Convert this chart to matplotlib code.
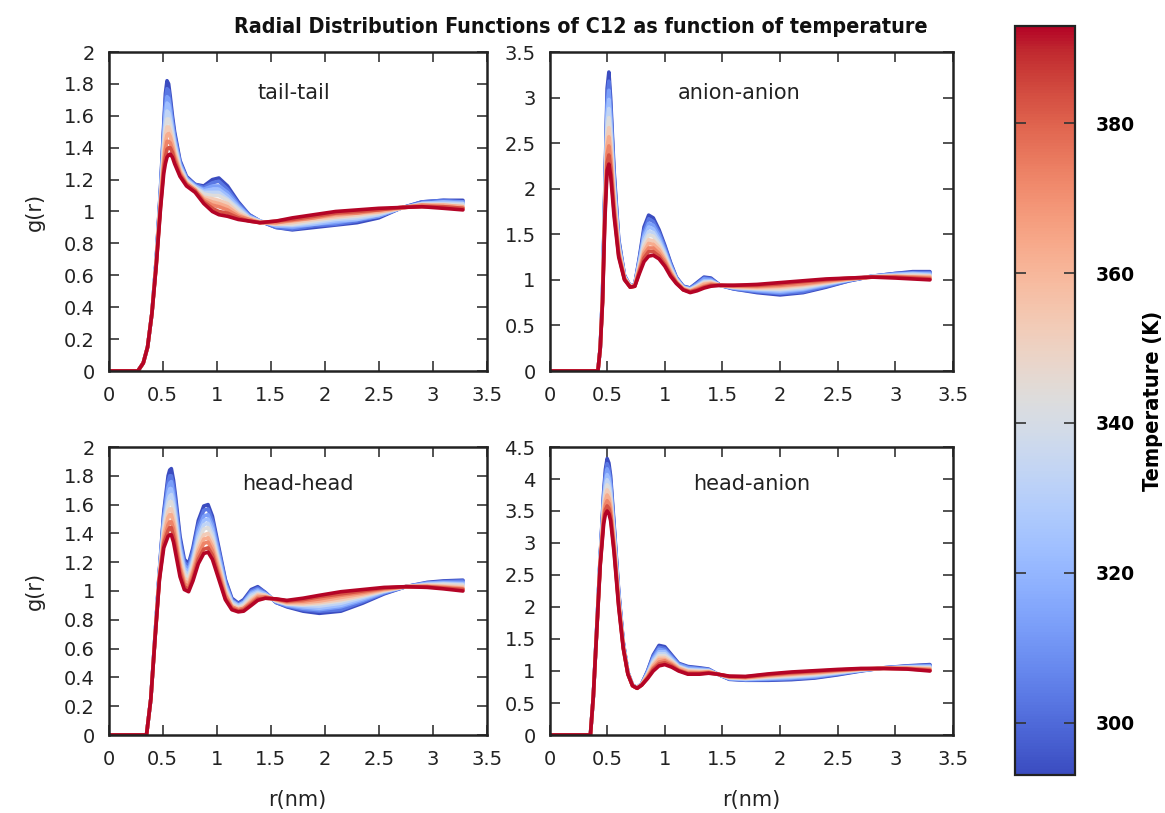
import numpy as np
import matplotlib
matplotlib.use("Agg")
import matplotlib.pyplot as plt
from matplotlib.ticker import MultipleLocator, FuncFormatter
from matplotlib.colors import Normalize
from matplotlib.cm import ScalarMappable

# ---------------- data ----------------
temperatures = [293, 303, 313, 323, 333, 343, 353, 363, 373, 383, 393]
panel_labels = ["tail-tail", "anion-anion", "head-head", "head-anion"]
cbar_ticks = [300, 320, 340, 360, 380]

# each row: g(r) at one r value, columns = temperatures (cold -> hot)
r_tail = [0.00, 0.27, 0.32, 0.36, 0.40, 0.44, 0.48, 0.51, 0.525, 0.54, 0.555, 0.57, 0.59, 0.61,
          0.66, 0.72, 0.80, 0.88, 0.96, 1.02, 1.10, 1.20, 1.30, 1.40, 1.55, 1.70, 1.90, 2.10,
          2.30, 2.50, 2.70, 2.90, 3.10, 3.28]
g_tail = [
    [0, 0, 0, 0, 0, 0, 0, 0, 0, 0, 0],
    [0, 0, 0, 0, 0, 0, 0, 0, 0, 0, 0],
    [0.05, 0.05, 0.05, 0.05, 0.05, 0.05, 0.05, 0.05, 0.05, 0.05, 0.05],
    [0.15, 0.15, 0.15, 0.15, 0.15, 0.15, 0.15, 0.15, 0.15, 0.15, 0.15],
    [0.36, 0.36, 0.36, 0.36, 0.36, 0.36, 0.36, 0.36, 0.36, 0.36, 0.36],
    [0.70, 0.70, 0.69, 0.69, 0.68, 0.68, 0.68, 0.67, 0.67, 0.66, 0.66],
    [1.15, 1.14, 1.12, 1.11, 1.10, 1.09, 1.07, 1.06, 1.05, 1.03, 1.02],
    [1.55, 1.52, 1.49, 1.46, 1.43, 1.40, 1.36, 1.33, 1.30, 1.27, 1.24],
    [1.74, 1.70, 1.65, 1.61, 1.56, 1.52, 1.48, 1.43, 1.39, 1.34, 1.30],
    [1.82, 1.77, 1.72, 1.68, 1.63, 1.58, 1.53, 1.48, 1.44, 1.39, 1.34],
    [1.80, 1.76, 1.71, 1.67, 1.62, 1.58, 1.53, 1.49, 1.44, 1.40, 1.355],
    [1.72, 1.68, 1.65, 1.61, 1.58, 1.54, 1.50, 1.47, 1.43, 1.40, 1.36],
    [1.60, 1.57, 1.55, 1.52, 1.50, 1.47, 1.44, 1.42, 1.39, 1.37, 1.34],
    [1.50, 1.48, 1.46, 1.44, 1.42, 1.40, 1.38, 1.36, 1.34, 1.32, 1.30],
    [1.32, 1.31, 1.30, 1.29, 1.28, 1.27, 1.26, 1.25, 1.24, 1.23, 1.22],
    [1.22, 1.21, 1.21, 1.20, 1.20, 1.19, 1.18, 1.18, 1.17, 1.17, 1.16],
    [1.17, 1.17, 1.16, 1.16, 1.15, 1.15, 1.14, 1.14, 1.13, 1.13, 1.12],
    [1.16, 1.15, 1.14, 1.13, 1.12, 1.11, 1.09, 1.08, 1.07, 1.06, 1.05],
    [1.20, 1.18, 1.16, 1.14, 1.12, 1.10, 1.08, 1.06, 1.04, 1.02, 1.00],
    [1.21, 1.19, 1.16, 1.14, 1.12, 1.10, 1.07, 1.05, 1.03, 1.00, 0.98],
    [1.16, 1.14, 1.12, 1.10, 1.08, 1.07, 1.05, 1.03, 1.01, 0.99, 0.97],
    [1.06, 1.05, 1.04, 1.03, 1.02, 1.01, 0.99, 0.98, 0.97, 0.96, 0.95],
    [0.98, 0.98, 0.97, 0.97, 0.96, 0.96, 0.96, 0.95, 0.95, 0.94, 0.94],
    [0.94, 0.94, 0.94, 0.94, 0.94, 0.935, 0.935, 0.93, 0.93, 0.93, 0.93],
    [0.90, 0.90, 0.91, 0.91, 0.92, 0.92, 0.92, 0.93, 0.93, 0.94, 0.94],
    [0.885, 0.89, 0.90, 0.91, 0.915, 0.92, 0.93, 0.94, 0.945, 0.95, 0.96],
    [0.90, 0.91, 0.92, 0.92, 0.93, 0.94, 0.95, 0.96, 0.96, 0.97, 0.98],
    [0.915, 0.92, 0.93, 0.94, 0.95, 0.96, 0.965, 0.975, 0.985, 0.99, 1.00],
    [0.93, 0.94, 0.95, 0.95, 0.96, 0.97, 0.98, 0.99, 0.99, 1.00, 1.01],
    [0.96, 0.97, 0.97, 0.98, 0.98, 0.99, 0.995, 1.00, 1.01, 1.01, 1.02],
    [1.02, 1.02, 1.02, 1.02, 1.02, 1.02, 1.02, 1.02, 1.025, 1.025, 1.025],
    [1.06, 1.06, 1.05, 1.05, 1.05, 1.045, 1.04, 1.04, 1.04, 1.03, 1.03],
    [1.07, 1.07, 1.06, 1.06, 1.05, 1.045, 1.04, 1.04, 1.03, 1.03, 1.02],
    [1.07, 1.06, 1.06, 1.05, 1.05, 1.04, 1.03, 1.03, 1.02, 1.02, 1.01],
]

r_anion = [0.00, 0.42, 0.44, 0.46, 0.48, 0.50, 0.515, 0.53, 0.56, 0.60, 0.65, 0.70, 0.74, 0.78,
           0.82, 0.86, 0.90, 0.95, 1.00, 1.05, 1.10, 1.16, 1.22, 1.28, 1.34, 1.40, 1.48, 1.60,
           1.80, 2.00, 2.20, 2.40, 2.60, 2.80, 3.00, 3.15, 3.30]
g_anion = [
    [0, 0, 0, 0, 0, 0, 0, 0, 0, 0, 0],
    [0, 0, 0, 0, 0, 0, 0, 0, 0, 0, 0],
    [0.25, 0.25, 0.25, 0.25, 0.25, 0.25, 0.25, 0.25, 0.25, 0.25, 0.25],
    [0.85, 0.84, 0.83, 0.82, 0.81, 0.80, 0.79, 0.78, 0.77, 0.76, 0.75],
    [2.00, 1.97, 1.93, 1.90, 1.86, 1.83, 1.79, 1.76, 1.72, 1.69, 1.65],
    [3.10, 3.01, 2.92, 2.83, 2.74, 2.65, 2.56, 2.47, 2.38, 2.29, 2.20],
    [3.28, 3.18, 3.08, 2.98, 2.88, 2.78, 2.67, 2.57, 2.47, 2.37, 2.27],
    [3.00, 2.92, 2.83, 2.75, 2.66, 2.58, 2.49, 2.41, 2.32, 2.24, 2.15],
    [2.20, 2.15, 2.10, 2.05, 2.00, 1.95, 1.90, 1.85, 1.80, 1.75, 1.70],
    [1.45, 1.43, 1.41, 1.39, 1.37, 1.35, 1.33, 1.31, 1.29, 1.27, 1.25],
    [1.05, 1.05, 1.04, 1.04, 1.03, 1.03, 1.02, 1.02, 1.01, 1.01, 1.00],
    [0.93, 0.93, 0.93, 0.93, 0.93, 0.93, 0.92, 0.92, 0.92, 0.92, 0.92],
    [0.95, 0.95, 0.95, 0.94, 0.94, 0.94, 0.94, 0.94, 0.93, 0.93, 0.93],
    [1.25, 1.23, 1.21, 1.20, 1.18, 1.16, 1.14, 1.12, 1.11, 1.09, 1.07],
    [1.58, 1.54, 1.50, 1.47, 1.43, 1.39, 1.35, 1.31, 1.28, 1.24, 1.20],
    [1.71, 1.67, 1.62, 1.58, 1.53, 1.49, 1.44, 1.40, 1.35, 1.31, 1.26],
    [1.68, 1.64, 1.60, 1.56, 1.52, 1.48, 1.43, 1.39, 1.35, 1.31, 1.27],
    [1.55, 1.52, 1.49, 1.45, 1.42, 1.39, 1.36, 1.33, 1.29, 1.26, 1.23],
    [1.38, 1.36, 1.33, 1.31, 1.29, 1.27, 1.24, 1.22, 1.20, 1.17, 1.15],
    [1.19, 1.18, 1.16, 1.15, 1.13, 1.12, 1.10, 1.09, 1.07, 1.06, 1.04],
    [1.03, 1.02, 1.02, 1.01, 1.00, 1.00, 0.99, 0.98, 0.97, 0.97, 0.96],
    [0.93, 0.93, 0.92, 0.92, 0.91, 0.91, 0.91, 0.90, 0.90, 0.89, 0.89],
    [0.91, 0.91, 0.90, 0.90, 0.89, 0.89, 0.88, 0.88, 0.87, 0.87, 0.86],
    [0.97, 0.96, 0.95, 0.94, 0.93, 0.93, 0.92, 0.91, 0.90, 0.89, 0.88],
    [1.03, 1.02, 1.01, 0.99, 0.98, 0.97, 0.96, 0.95, 0.93, 0.92, 0.91],
    [1.02, 1.01, 1.00, 0.99, 0.98, 0.98, 0.97, 0.96, 0.95, 0.94, 0.93],
    [0.94, 0.94, 0.94, 0.94, 0.94, 0.94, 0.94, 0.94, 0.94, 0.94, 0.94],
    [0.90, 0.90, 0.91, 0.91, 0.92, 0.92, 0.92, 0.93, 0.93, 0.94, 0.94],
    [0.86, 0.87, 0.88, 0.89, 0.90, 0.905, 0.91, 0.92, 0.93, 0.94, 0.95],
    [0.835, 0.85, 0.86, 0.875, 0.89, 0.90, 0.915, 0.93, 0.94, 0.955, 0.97],
    [0.86, 0.87, 0.89, 0.90, 0.91, 0.925, 0.94, 0.95, 0.96, 0.98, 0.99],
    [0.92, 0.93, 0.94, 0.95, 0.96, 0.965, 0.97, 0.98, 0.99, 1.00, 1.01],
    [0.99, 0.99, 1.00, 1.00, 1.00, 1.005, 1.01, 1.01, 1.01, 1.02, 1.02],
    [1.04, 1.04, 1.04, 1.04, 1.04, 1.035, 1.035, 1.03, 1.03, 1.03, 1.03],
    [1.07, 1.07, 1.06, 1.06, 1.05, 1.045, 1.04, 1.04, 1.03, 1.03, 1.02],
    [1.09, 1.08, 1.07, 1.07, 1.06, 1.05, 1.04, 1.03, 1.03, 1.02, 1.01],
    [1.09, 1.08, 1.07, 1.06, 1.05, 1.045, 1.04, 1.03, 1.02, 1.01, 1.00],
]

r_head = [0.00, 0.35, 0.39, 0.43, 0.47, 0.51, 0.55, 0.565, 0.58, 0.60, 0.62, 0.66, 0.70, 0.74,
          0.78, 0.83, 0.88, 0.92, 0.96, 1.02, 1.08, 1.14, 1.20, 1.25, 1.32, 1.38, 1.45, 1.55,
          1.65, 1.80, 1.95, 2.15, 2.35, 2.55, 2.75, 2.95, 3.10, 3.28]
g_head = [
    [0, 0, 0, 0, 0, 0, 0, 0, 0, 0, 0],
    [0, 0, 0, 0, 0, 0, 0, 0, 0, 0, 0],
    [0.25, 0.25, 0.25, 0.25, 0.25, 0.25, 0.25, 0.25, 0.25, 0.25, 0.25],
    [0.70, 0.70, 0.70, 0.69, 0.69, 0.69, 0.69, 0.69, 0.68, 0.68, 0.68],
    [1.15, 1.14, 1.14, 1.13, 1.12, 1.12, 1.11, 1.10, 1.09, 1.09, 1.08],
    [1.55, 1.53, 1.50, 1.48, 1.45, 1.43, 1.40, 1.38, 1.35, 1.33, 1.30],
    [1.80, 1.76, 1.72, 1.67, 1.63, 1.59, 1.55, 1.51, 1.46, 1.42, 1.38],
    [1.84, 1.80, 1.75, 1.71, 1.66, 1.62, 1.57, 1.53, 1.48, 1.44, 1.39],
    [1.85, 1.80, 1.76, 1.71, 1.67, 1.62, 1.57, 1.53, 1.48, 1.44, 1.39],
    [1.77, 1.73, 1.68, 1.64, 1.60, 1.56, 1.51, 1.47, 1.43, 1.38, 1.34],
    [1.65, 1.61, 1.57, 1.53, 1.49, 1.46, 1.42, 1.38, 1.34, 1.30, 1.26],
    [1.38, 1.35, 1.32, 1.30, 1.27, 1.24, 1.21, 1.18, 1.16, 1.13, 1.10],
    [1.22, 1.20, 1.18, 1.16, 1.14, 1.12, 1.09, 1.07, 1.05, 1.03, 1.01],
    [1.19, 1.17, 1.15, 1.13, 1.11, 1.09, 1.07, 1.05, 1.03, 1.01, 0.995],
    [1.30, 1.28, 1.25, 1.23, 1.21, 1.19, 1.16, 1.14, 1.12, 1.09, 1.07],
    [1.49, 1.46, 1.43, 1.40, 1.37, 1.34, 1.31, 1.28, 1.25, 1.22, 1.19],
    [1.59, 1.56, 1.52, 1.49, 1.46, 1.43, 1.39, 1.36, 1.33, 1.29, 1.26],
    [1.60, 1.57, 1.53, 1.50, 1.47, 1.44, 1.40, 1.37, 1.34, 1.30, 1.27],
    [1.52, 1.49, 1.46, 1.43, 1.40, 1.37, 1.34, 1.31, 1.28, 1.25, 1.22],
    [1.30, 1.28, 1.26, 1.23, 1.21, 1.19, 1.17, 1.15, 1.12, 1.10, 1.08],
    [1.08, 1.07, 1.05, 1.04, 1.02, 1.01, 1.00, 0.98, 0.97, 0.95, 0.94],
    [0.95, 0.94, 0.93, 0.93, 0.92, 0.91, 0.90, 0.89, 0.89, 0.88, 0.87],
    [0.915, 0.91, 0.90, 0.90, 0.89, 0.885, 0.88, 0.87, 0.87, 0.86, 0.855],
    [0.94, 0.93, 0.92, 0.92, 0.91, 0.90, 0.89, 0.88, 0.88, 0.87, 0.86],
    [1.01, 1.00, 0.99, 0.98, 0.97, 0.955, 0.94, 0.93, 0.92, 0.91, 0.90],
    [1.03, 1.02, 1.01, 1.00, 0.99, 0.98, 0.975, 0.965, 0.955, 0.945, 0.935],
    [0.99, 0.99, 0.98, 0.98, 0.97, 0.97, 0.97, 0.96, 0.96, 0.95, 0.95],
    [0.92, 0.92, 0.925, 0.93, 0.93, 0.93, 0.935, 0.94, 0.94, 0.945, 0.945],
    [0.89, 0.895, 0.90, 0.905, 0.91, 0.91, 0.915, 0.92, 0.925, 0.93, 0.935],
    [0.86, 0.87, 0.88, 0.89, 0.90, 0.905, 0.91, 0.92, 0.93, 0.94, 0.95],
    [0.845, 0.86, 0.87, 0.88, 0.895, 0.91, 0.92, 0.93, 0.945, 0.96, 0.97],
    [0.86, 0.87, 0.89, 0.90, 0.915, 0.93, 0.94, 0.955, 0.97, 0.98, 0.995],
    [0.915, 0.925, 0.935, 0.945, 0.955, 0.965, 0.97, 0.98, 0.99, 1.00, 1.01],
    [0.98, 0.985, 0.99, 0.995, 1.00, 1.00, 1.005, 1.01, 1.015, 1.02, 1.025],
    [1.03, 1.03, 1.03, 1.03, 1.03, 1.03, 1.03, 1.03, 1.03, 1.03, 1.03],
    [1.06, 1.055, 1.055, 1.05, 1.045, 1.04, 1.04, 1.035, 1.03, 1.03, 1.025],
    [1.07, 1.065, 1.06, 1.055, 1.05, 1.045, 1.035, 1.03, 1.025, 1.02, 1.015],
    [1.075, 1.07, 1.06, 1.05, 1.045, 1.04, 1.03, 1.02, 1.015, 1.01, 1.00],
]

r_headanion = [0.00, 0.355, 0.38, 0.41, 0.44, 0.47, 0.485, 0.50, 0.515, 0.53, 0.56, 0.60,
               0.64, 0.68, 0.72, 0.76, 0.80, 0.85, 0.90, 0.95, 1.00, 1.06, 1.12, 1.20, 1.30,
               1.38, 1.46, 1.56, 1.70, 1.90, 2.10, 2.30, 2.50, 2.70, 2.90, 3.10, 3.30]
g_headanion = [
    [0, 0, 0, 0, 0, 0, 0, 0, 0, 0, 0],
    [0, 0, 0, 0, 0, 0, 0, 0, 0, 0, 0],
    [0.60, 0.60, 0.60, 0.60, 0.60, 0.60, 0.60, 0.60, 0.60, 0.60, 0.60],
    [1.68, 1.675, 1.67, 1.665, 1.66, 1.655, 1.65, 1.645, 1.64, 1.635, 1.63],
    [2.80, 2.785, 2.77, 2.755, 2.74, 2.725, 2.71, 2.695, 2.68, 2.665, 2.65],
    [3.80, 3.75, 3.70, 3.65, 3.60, 3.55, 3.50, 3.45, 3.40, 3.35, 3.30],
    [4.15, 4.08, 4.01, 3.94, 3.87, 3.80, 3.73, 3.66, 3.59, 3.52, 3.45],
    [4.32, 4.24, 4.16, 4.07, 3.99, 3.91, 3.83, 3.75, 3.66, 3.58, 3.50],
    [4.25, 4.17, 4.09, 4.01, 3.93, 3.86, 3.78, 3.70, 3.62, 3.54, 3.46],
    [4.05, 3.98, 3.91, 3.84, 3.77, 3.70, 3.63, 3.56, 3.49, 3.42, 3.35],
    [3.30, 3.255, 3.21, 3.165, 3.12, 3.075, 3.03, 2.985, 2.94, 2.895, 2.85],
    [2.25, 2.225, 2.20, 2.175, 2.15, 2.125, 2.10, 2.075, 2.05, 2.025, 2.00],
    [1.45, 1.44, 1.43, 1.42, 1.41, 1.40, 1.39, 1.38, 1.37, 1.36, 1.35],
    [0.98, 0.98, 0.97, 0.97, 0.97, 0.965, 0.96, 0.96, 0.96, 0.95, 0.95],
    [0.78, 0.78, 0.78, 0.78, 0.78, 0.775, 0.77, 0.77, 0.77, 0.77, 0.77],
    [0.74, 0.74, 0.74, 0.74, 0.74, 0.735, 0.73, 0.73, 0.73, 0.73, 0.73],
    [0.80, 0.80, 0.80, 0.79, 0.79, 0.79, 0.79, 0.79, 0.78, 0.78, 0.78],
    [1.00, 0.99, 0.98, 0.96, 0.95, 0.94, 0.93, 0.92, 0.90, 0.89, 0.88],
    [1.25, 1.23, 1.20, 1.18, 1.15, 1.13, 1.10, 1.08, 1.05, 1.03, 1.00],
    [1.40, 1.37, 1.34, 1.30, 1.27, 1.24, 1.21, 1.18, 1.14, 1.11, 1.08],
    [1.38, 1.35, 1.32, 1.30, 1.27, 1.24, 1.21, 1.18, 1.16, 1.13, 1.10],
    [1.25, 1.23, 1.21, 1.19, 1.17, 1.16, 1.14, 1.12, 1.10, 1.08, 1.06],
    [1.12, 1.11, 1.10, 1.08, 1.07, 1.06, 1.05, 1.04, 1.02, 1.01, 1.00],
    [1.07, 1.06, 1.05, 1.03, 1.02, 1.01, 1.00, 0.99, 0.97, 0.96, 0.95],
    [1.05, 1.04, 1.03, 1.02, 1.01, 1.00, 0.99, 0.98, 0.97, 0.96, 0.95],
    [1.03, 1.02, 1.02, 1.01, 1.00, 1.00, 0.99, 0.99, 0.98, 0.97, 0.965],
    [0.95, 0.95, 0.95, 0.95, 0.95, 0.95, 0.95, 0.95, 0.95, 0.95, 0.95],
    [0.87, 0.875, 0.88, 0.885, 0.89, 0.895, 0.90, 0.905, 0.91, 0.915, 0.92],
    [0.855, 0.86, 0.865, 0.87, 0.88, 0.885, 0.89, 0.895, 0.90, 0.91, 0.915],
    [0.855, 0.865, 0.875, 0.885, 0.895, 0.905, 0.915, 0.925, 0.935, 0.945, 0.955],
    [0.865, 0.877, 0.889, 0.90, 0.913, 0.925, 0.937, 0.949, 0.96, 0.973, 0.985],
    [0.89, 0.90, 0.91, 0.925, 0.935, 0.95, 0.96, 0.97, 0.98, 0.995, 1.005],
    [0.94, 0.95, 0.96, 0.965, 0.975, 0.98, 0.99, 1.00, 1.01, 1.015, 1.025],
    [1.00, 1.005, 1.01, 1.01, 1.015, 1.02, 1.025, 1.03, 1.03, 1.035, 1.04],
    [1.05, 1.05, 1.05, 1.045, 1.045, 1.045, 1.045, 1.045, 1.04, 1.04, 1.04],
    [1.08, 1.075, 1.07, 1.065, 1.06, 1.055, 1.05, 1.045, 1.04, 1.035, 1.03],
    [1.10, 1.09, 1.08, 1.07, 1.06, 1.05, 1.04, 1.03, 1.02, 1.01, 1.00],
]

y_limits = [2.0, 3.5, 2.0, 4.5]
y_steps = [0.2, 0.5, 0.2, 0.5]

# ---------------- figure ----------------
plt.rcParams['font.family'] = ['DejaVu Sans']
W, H = 1165, 813
fig = plt.figure(figsize=(W / 100, H / 100), dpi=100)

def px_axes(x0, y0, x1, y1):
    return [x0 / W, 1 - y1 / H, (x1 - x0) / W, (y1 - y0) / H]

positions = [px_axes(108.7, 52, 486.7, 371), px_axes(549.5, 52, 953, 371),
             px_axes(108.7, 447, 486.7, 735), px_axes(549.5, 447, 953, 735)]
label_x = [0.49, 0.47, 0.50, 0.50]
data = [(r_tail, g_tail), (r_anion, g_anion), (r_head, g_head), (r_headanion, g_headanion)]

cmap = plt.get_cmap('coolwarm')
norm = Normalize(vmin=293, vmax=393)
fmt = FuncFormatter(lambda v, _: f"{v:g}")
txt_color = '#222222'

for i, ((r, g), pos) in enumerate(zip(data, positions)):
    ax = fig.add_axes(pos)
    G = np.array(g).T
    for k, T in enumerate(temperatures):
        ax.plot(r, G[k], color=cmap(norm(T)), lw=2.6, solid_joinstyle='round',
                solid_capstyle='round')
    ax.set_xlim(0, 3.5)
    ax.set_ylim(0, y_limits[i])
    ax.xaxis.set_major_locator(MultipleLocator(0.5))
    ax.yaxis.set_major_locator(MultipleLocator(y_steps[i]))
    ax.xaxis.set_major_formatter(fmt)
    ax.yaxis.set_major_formatter(fmt)
    ax.tick_params(direction='in', top=True, right=True, length=7, width=1.3,
                   labelsize=14, color='#444444', labelcolor=txt_color)
    ax.tick_params(axis='x', pad=11)
    ax.tick_params(axis='y', pad=10)
    for s in ax.spines.values():
        s.set_linewidth(1.8)
        s.set_color('#222222')
    ax.text(label_x[i], 0.87, panel_labels[i], transform=ax.transAxes, ha='center',
            va='center', fontsize=15, color=txt_color)
    if i in (0, 2):
        cy = (pos[1] + pos[3] / 2)
        fig.text(35 / W, cy, "g(r)", rotation=90, ha='center', va='center',
                 fontsize=15, color=txt_color)
    if i in (2, 3):
        fig.text(pos[0] + pos[2] / 2, 1 - 800 / H, "r(nm)", ha='center', va='center',
                 fontsize=15, color=txt_color)

title = fig.text(581 / W, 1 - 27 / H,
                 "Radial Distribution Functions of C12 as function of temperature",
                 ha='center', va='center', fontsize=13, fontweight='bold',
                 fontstretch='condensed', color='#111111')

cax = fig.add_axes(px_axes(1015, 26, 1075, 775))
cb = fig.colorbar(ScalarMappable(norm=norm, cmap=cmap), cax=cax)
cb.set_ticks(cbar_ticks)
cb.ax.tick_params(direction='in', left=True, right=True, length=8, width=1.2,
                  labelsize=13.5, pad=15, color='#333333')
for t in cb.ax.get_yticklabels():
    t.set_fontweight('bold')
cb.outline.set_linewidth(1.6)
cb.outline.set_edgecolor('#222222')
cb.set_label("Temperature (K)", fontsize=13, fontweight='bold', fontstretch='condensed',
             labelpad=6)

# fit the title and colorbar label to the widths seen in the reference
renderer = fig.canvas.get_renderer()
bb = title.get_window_extent(renderer)
title.set_fontsize(title.get_fontsize() * 691.0 / bb.width)
lab = cb.ax.yaxis.label
bb2 = lab.get_window_extent(renderer)
lab.set_fontsize(lab.get_fontsize() * 180.0 / bb2.height)

fig.savefig("out.png", dpi=100)
